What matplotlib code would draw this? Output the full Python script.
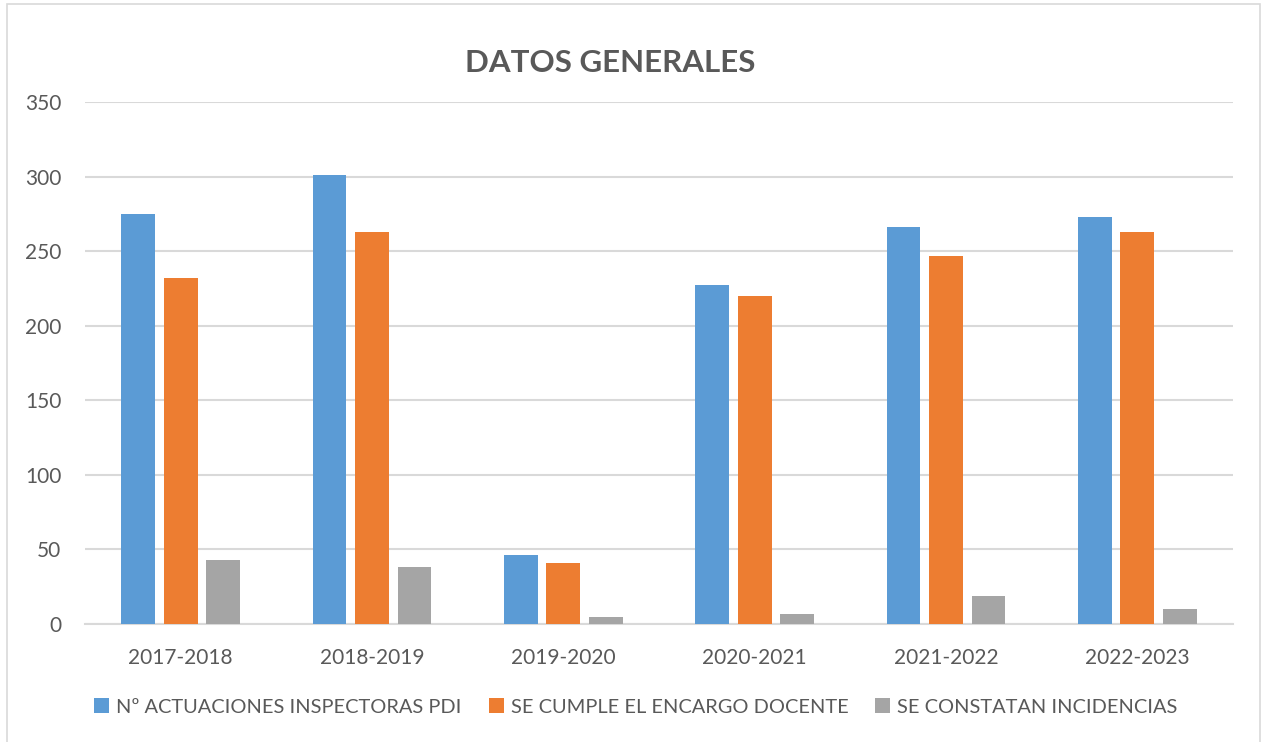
import matplotlib
matplotlib.use('Agg')
import numpy as np
from matplotlib import pyplot as plt
from matplotlib.patches import Rectangle

# datos
cursos = ['2017-2018', '2018-2019', '2019-2020', '2020-2021', '2021-2022', '2022-2023']
actuaciones = [275, 301, 46, 227, 266, 273]
cumple = [232, 263, 41, 220, 247, 263]
incidencias = [43, 38, 5, 7, 19, 10]

series = [
    ('Nº ACTUACIONES INSPECTORAS PDI', actuaciones, '#5b9bd5'),
    ('SE CUMPLE EL ENCARGO DOCENTE', cumple, '#ed7d31'),
    ('SE CONSTATAN INCIDENCIAS', incidencias, '#a5a5a5'),
]

TXT = '#595959'
GRID = '#d9d9d9'
plt.rcParams['font.family'] = ['Lato', 'DejaVu Sans']

fig = plt.figure(figsize=(12.69, 7.42), dpi=100)
ax = fig.add_axes([85 / 1269, 1 - 624 / 742, 1148 / 1269, 522 / 742])

x = np.arange(len(cursos))
width = 0.176
step = 0.222
for i, (label, vals, color) in enumerate(series):
    ax.bar(x + (i - 1) * step, vals, width, color=color, label=label, zorder=3)

ax.set_xlim(-0.5, len(cursos) - 0.5)
ax.set_ylim(0, 350)
ax.set_yticks(range(0, 351, 50))
ax.set_xticks(x)
ax.set_xticklabels(cursos)
ax.yaxis.grid(True, color=GRID, linewidth=1.5, zorder=0)
ax.tick_params(axis='both', length=0, labelsize=15, colors=TXT)
ax.tick_params(axis='x', pad=17)
ax.tick_params(axis='y', pad=17)
for side in ['top', 'right', 'left']:
    ax.spines[side].set_visible(False)
ax.spines['bottom'].set_color(GRID)
ax.spines['bottom'].set_linewidth(1.5)

fig.text(610 / 1269, 1 - 63 / 742, 'DATOS GENERALES', ha='center', va='center',
         fontsize=22.5, fontweight='bold', color=TXT)

leg = fig.legend(loc='center', bbox_to_anchor=(636 / 1269, 1 - 707 / 742), ncol=3,
                 frameon=False, fontsize=14.4, handlelength=0.75, handleheight=0.75,
                 handletextpad=0.35, columnspacing=1.35)
for t in leg.get_texts():
    t.set_color(TXT)

# borde del área del gráfico
fig.patches.append(Rectangle((7 / 1269, -0.01), 1253 / 1269, 1 - 4 / 742 + 0.01,
                             transform=fig.transFigure, fill=False,
                             edgecolor='#d9d9d9', linewidth=1.2))

plt.savefig('out.png', dpi=100)
plt.close()
